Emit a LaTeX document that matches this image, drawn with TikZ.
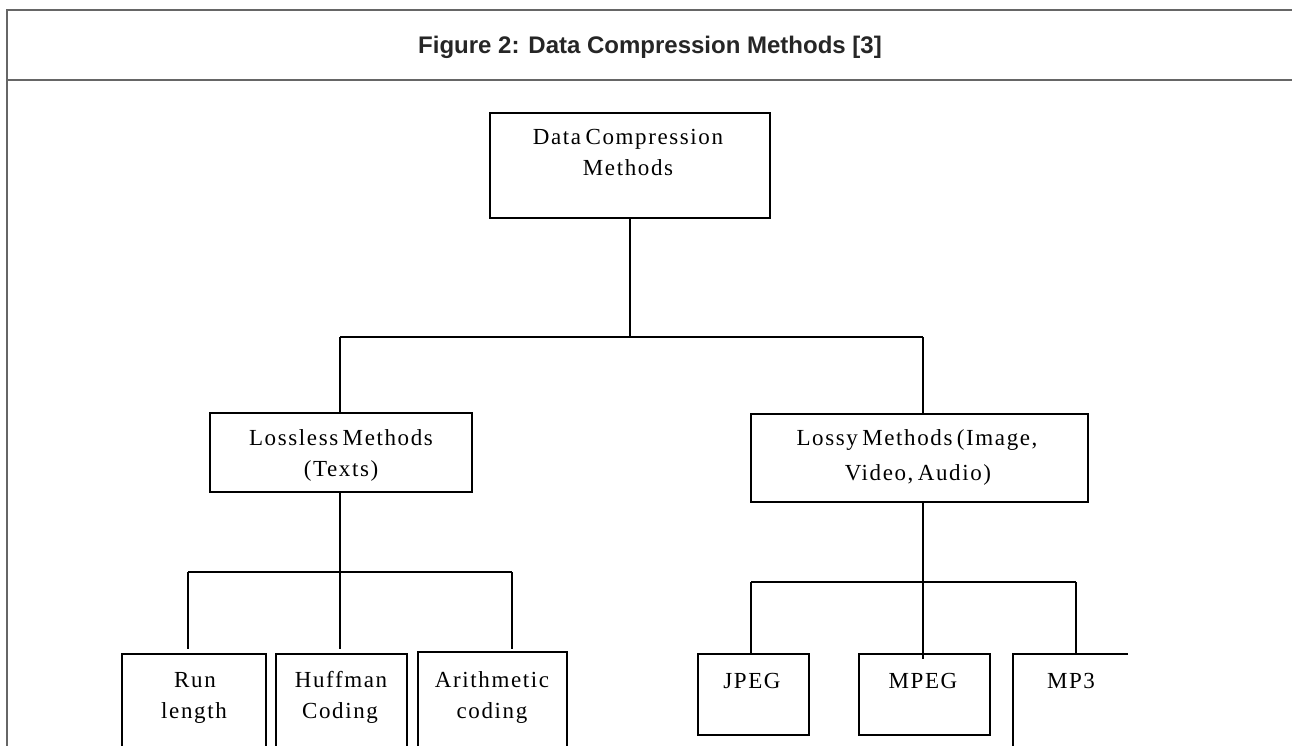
\documentclass[tikz,border=0pt]{standalone}
\usepackage{fontspec}
\setmainfont{Liberation Serif}
\newfontfamily\ttlfont{Liberation Sans}
\newfontfamily\bxfont[LetterSpace=7,WordSpace=0.6]{Liberation Serif}
\begin{document}
\begin{tikzpicture}[x=1pt,y=-1pt,
  frame/.style={draw=black!60, line width=2.2pt},
  box/.style={draw, line width=1.8pt, inner sep=0pt, outer sep=0pt, anchor=north west, rectangle},
  ghost/.style={inner sep=0pt, outer sep=0pt, anchor=north west, rectangle},
  conn/.style={draw, line width=1.6pt},
  txt/.style={font=\bxfont\fontsize{23}{31}\selectfont, anchor=base, inner sep=0pt},
  ttl/.style={font=\ttlfont\bfseries\fontsize{24}{30}\selectfont, text=black!85, anchor=base, inner sep=0pt}]
\useasboundingbox (0,0) rectangle (1292,746);
\clip (0,0) rectangle (1292,746);
% frame
\draw[frame] (1320,10) -- (7,10) -- (7,780);
\draw[frame] (7,80) -- (1320,80);
\node[ttl] (title) at (650,54) {Figure 2: Data Compression Methods [3]};
% boxes
\node[box, minimum width=280, minimum height=105] (tb) at (490,113) {};
\node[box, minimum width=262, minimum height=79] (ll) at (210,413) {};
\node[box, minimum width=337, minimum height=88] (ly) at (751,414) {};
\node[box, minimum width=144, minimum height=130] (rl) at (122,654) {};
\node[box, minimum width=131, minimum height=130] (hc) at (276,654) {};
\node[box, minimum width=149, minimum height=132] (ac) at (418,652) {};
\node[box, minimum width=111, minimum height=81] (jp) at (698,654) {};
\node[box, minimum width=131, minimum height=81] (mp) at (859,654) {};
\node[ghost, minimum width=115, minimum height=130] (m3) at (1013,654) {};
\draw[line width=1.8pt] (m3.north east) -- (m3.north west) -- (m3.south west);
% texts
\node[txt] (tb1) at (628,145) {Data Compression};
\node[txt] (tb2) at (628,176) {Methods};
\node[txt] (ll1) at (341,445) {Lossless Methods};
\node[txt] (ll2) at (341,476) {(Texts)};
\node[txt] (ly1) at (917,445) {Lossy Methods (Image,};
\node[txt] (ly2) at (918,480) {Video, Audio)};
\node[txt] (rl1) at (195,687) {Run};
\node[txt] (rl2) at (194,718) {length};
\node[txt] (hc1) at (341,687) {Huffman};
\node[txt] (hc2) at (340,718) {Coding};
\node[txt] (ac1) at (492,687) {Arithmetic};
\node[txt] (ac2) at (492,718) {coding};
\node[txt] (jp1) at (752,688) {JPEG};
\node[txt] (mp1) at (923,688) {MPEG};
\node[txt] (m31) at (1071,688) {MP3};
% connectors: level 1
\coordinate (b1l) at (340,337);
\coordinate (b1r) at (923,337);
\draw[conn] (tb.south) -- (tb.south |- b1l);
\draw[conn] (b1l) -- (b1r);
\draw[conn] (b1l) -- (b1l |- ll.north);
\draw[conn] (b1r) -- (b1r |- ly.north);
% left subtree
\coordinate (b2l) at (188,572);
\coordinate (b2m) at (340,572);
\coordinate (b2r) at (512,572);
\path (rl.north) ++(0,-5) coordinate (rlt);
\draw[conn] (ll.south -| b2m) -- (b2m);
\draw[conn] (b2l) -- (b2r);
\draw[conn] (b2l) -- (b2l |- rlt);
\draw[conn] (b2m) -- (b2m |- rlt);
\draw[conn] (b2r) -- (b2r |- rlt);
% right subtree
\coordinate (b3l) at (751,582);
\coordinate (b3m) at (923,582);
\coordinate (b3r) at (1076,582);
\path (mp.north) ++(0,5) coordinate (mpt);
\draw[conn] (ly.south -| b3m) -- (b3m |- mpt);
\draw[conn] (b3l) -- (b3r);
\draw[conn] (b3l) -- (b3l |- jp.north);
\draw[conn] (b3r) -- (b3r |- m3.north);
\end{tikzpicture}
\end{document}
